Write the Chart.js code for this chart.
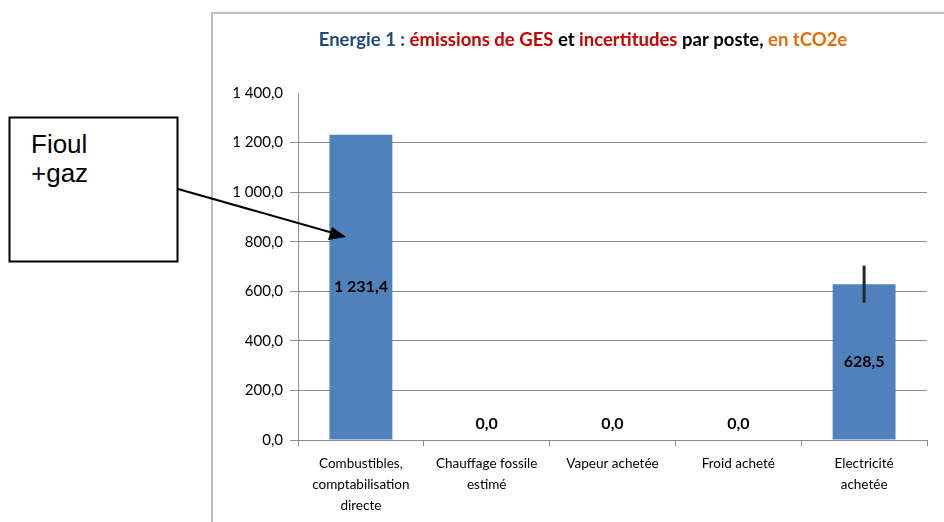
<!DOCTYPE html>
<html>
<head>
<meta charset="utf-8">
<script src="https://cdn.jsdelivr.net/npm/chart.js@4/dist/chart.umd.min.js"></script>
<style>
    html, body { margin: 0; padding: 0; background: #fff; }
    #wrap { position: relative; width: 944px; height: 522px; overflow: hidden; }
    #frame { position: absolute; left: 211px; top: 12px; width: 760px; height: 540px;
             border-top: 2px solid #c0c0c0; border-left: 2px solid #c0c0c0; box-sizing: border-box; }
    #chart { position: absolute; left: 0; top: 0; }
    #note { position: absolute; left: 0; top: 0; pointer-events: none; }
</style>
</head>
<body>
<div id="wrap">
    <div id="frame"></div>
    <canvas id="chart" width="944" height="522"></canvas>
    <svg id="note" width="944" height="522">
        <rect x="9.5" y="117.5" width="168" height="144" fill="#fff" stroke="#000" stroke-width="2"/>
        <text x="31" y="153" font-family="Liberation Sans, Arial" font-size="26">Fioul</text>
        <text x="31" y="182" font-family="Liberation Sans, Arial" font-size="26">+gaz</text>
        <line x1="178" y1="189" x2="340" y2="235" stroke="#000" stroke-width="2"/>
        <path d="M346,237 L328,240 L332,227 z" fill="#000"/>
    </svg>
</div>
<script>
// chart data
const categories = [
    ['Combustibles,', 'comptabilisation', 'directe'],
    ['Chauffage fossile', 'estimé'],
    ['Vapeur achetée'],
    ['Froid acheté'],
    ['Electricité', 'achetée']
];
const emissions = [1231.4, 0, 0, 0, 628.5];
const uncertainty = [0, 0, 0, 0, 75];
const yMax = 1400;
const yStep = 200;

const titleParts = [
    ['Energie 1 : ', '#1f497d'],
    ['émissions de GES', '#c00000'],
    [' et ', '#000000'],
    ['incertitudes', '#c00000'],
    [' par poste,', '#000000'],
    [' en tCO2e', '#e46c0a']
];

const FONT = 'Lato, "Open Sans", sans-serif';

// French number format: 1 231,4
function frNum(v) {
    const parts = Math.abs(v).toFixed(1).split('.');
    const whole = parts[0].replace(/\B(?=(\d{3})+(?!\d))/g, ' ');
    return whole + ',' + parts[1];
}

const titlePlugin = {
    id: 'multiTitle',
    afterDraw(chart) {
        const ctx = chart.ctx;
        ctx.save();
        ctx.font = 'bold 18.5px ' + FONT;
        ctx.textBaseline = 'middle';
        const total = titleParts.reduce((w, p) => w + ctx.measureText(p[0]).width, 0);
        let x = 583 - total / 2;
        titleParts.forEach(p => {
            ctx.fillStyle = p[1];
            ctx.fillText(p[0], x, 40);
            x += ctx.measureText(p[0]).width;
        });
        ctx.restore();
    }
};

const errorAndLabels = {
    id: 'errorAndLabels',
    afterDatasetsDraw(chart) {
        const ctx = chart.ctx;
        const y = chart.scales.y;
        const meta = chart.getDatasetMeta(0);
        ctx.save();
        // error bars
        meta.data.forEach((bar, i) => {
            const e = uncertainty[i];
            if (!e) return;
            ctx.strokeStyle = '#262626';
            ctx.lineWidth = 3;
            ctx.beginPath();
            ctx.moveTo(bar.x, y.getPixelForValue(emissions[i] + e));
            ctx.lineTo(bar.x, y.getPixelForValue(emissions[i] - e));
            ctx.stroke();
        });
        // value labels
        ctx.font = 'bold 16px ' + FONT;
        ctx.fillStyle = '#000';
        ctx.textAlign = 'center';
        ctx.textBaseline = 'middle';
        meta.data.forEach((bar, i) => {
            const v = emissions[i];
            const ly = v > 0 ? (bar.y + bar.base) / 2 : bar.base - 16;
            ctx.fillText(frNum(v), bar.x, ly);
        });
        ctx.restore();
    }
};

new Chart(document.getElementById('chart').getContext('2d'), {
    type: 'bar',
    data: {
        labels: categories,
        datasets: [{
            label: 'Emissions',
            data: emissions,
            backgroundColor: '#4f81bd',
            borderColor: '#4f81bd',
            borderWidth: 0,
            barPercentage: 0.5,
            categoryPercentage: 1
        }]
    },
    options: {
        responsive: false,
        animation: false,
        layout: { padding: { left: 212, right: 17, top: 93, bottom: 0 } },
        plugins: {
            legend: { display: false },
            tooltip: { enabled: false }
        },
        scales: {
            x: {
                afterFit: s => { s.height = 82; },
                grid: {
                    display: true,
                    offset: true,
                    drawOnChartArea: false,
                    drawTicks: true,
                    tickLength: 6,
                    color: '#8c8c8c'
                },
                border: { display: true, color: '#8c8c8c' },
                ticks: {
                    maxRotation: 0,
                    autoSkip: false,
                    padding: 7,
                    color: '#000',
                    font: { family: FONT, size: 13.5, lineHeight: 1.55 }
                }
            },
            y: {
                min: 0,
                max: yMax,
                afterFit: s => { s.width = 86; },
                grid: {
                    color: c => (c.tick && c.tick.value === yMax ? 'rgba(0,0,0,0)' : '#8c8c8c'),
                    tickLength: 8
                },
                border: { display: true, color: '#8c8c8c' },
                ticks: {
                    stepSize: yStep,
                    padding: 7,
                    color: '#000',
                    font: { family: FONT, size: 15 },
                    callback: v => frNum(v)
                }
            }
        }
    },
    plugins: [titlePlugin, errorAndLabels]
});
</script>
</body>
</html>
